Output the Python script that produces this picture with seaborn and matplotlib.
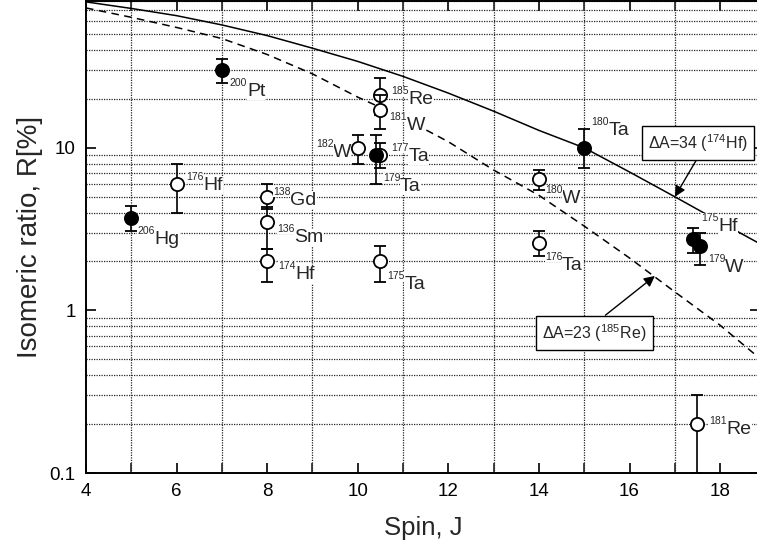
import numpy as np
import pandas as pd
import matplotlib
matplotlib.use("Agg")
import matplotlib.pyplot as plt
import matplotlib.ticker as mticker
import seaborn as sns

# kривые (J, R в %)
curve_spin = [4, 5, 6, 7, 8, 9, 10, 11, 12, 13, 14, 15, 16, 17, 18, 18.9]
solid_ratio = [79, 72, 65, 57, 49, 41, 34, 27.5, 21.7, 16.8, 12.8, 10.0, 7.1, 5.0, 3.5, 2.55]
dashed_ratio = [72.5, 63.5, 55, 47, 37.5, 28.5, 20.5, 15.3, 10.9, 7.3, 5.1, 3.3, 2.1, 1.3, 0.81, 0.5]

# open circles
open_mass = ["176", "138", "136", "174", "182", "185", "181", "177", "175", "180", "176", "181"]
open_elem = ["Hf", "Gd", "Sm", "Hf", "W", "Re", "W", "Ta", "Ta", "W", "Ta", "Re"]
open_spin = [6, 8, 8, 8, 10, 10.5, 10.5, 10.5, 10.5, 14, 14, 17.5]
open_ratio = [6.0, 5.0, 3.5, 2.0, 10, 21, 17, 9.0, 2.0, 6.4, 2.6, 0.2]
open_err_lo = [2.0, 0.8, 1.1, 0.5, 2.0, 5, 4, 1.5, 0.5, 0.9, 0.45, 0.0999]
open_err_hi = [2.0, 1.0, 0.8, 0.4, 2.0, 6, 4, 1.7, 0.5, 0.9, 0.5, 0.1]

# filled circles
full_mass = ["206", "200", "179", "180", "175", "179"]
full_elem = ["Hg", "Pt", "Ta", "Ta", "Hf", "W"]
full_spin = [5, 7, 10.4, 15, 17.4, 17.55]
full_ratio = [3.7, 30, 9.0, 10, 2.75, 2.5]
full_err_lo = [0.6, 5, 3, 2.5, 0.5, 0.6]
full_err_hi = [0.7, 5, 3, 3, 0.45, 0.5]

# положение подписей относительно точки, в пикселях (dx, dy вниз)
label_pos = {
    "206Hg": (6, 26), "200Pt": (8, 26), "176Hf": (10, 6), "138Gd": (6, 8),
    "136Sm": (10, 20), "174Hf": (11, 18), "175Ta": (7, 28), "185Re": (11, 9),
    "181W": (9, 20), "182W": (-42, 9), "177Ta": (11, 6), "179Ta": (7, 36),
    "180Ta": (7, -13), "180W": (6, 24), "176Ta": (6, 27), "175Hf": (8, -8),
    "179W": (8, 26), "181Re": (12, 10),
}

sns.set_theme(style="ticks")
plt.rcParams["font.family"] = ["Liberation Sans", "DejaVu Sans"]
plt.rcParams["mathtext.fontset"] = "custom"
plt.rcParams["mathtext.rm"] = "Liberation Sans"

fig = plt.figure(figsize=(7.57, 5.46), dpi=100)
ax = fig.add_axes([86 / 757, 73 / 546, 674 / 757, 472 / 546])
px = 72 / 100  # pixel -> point

curves = pd.DataFrame({"J": curve_spin, "solid": solid_ratio, "dashed": dashed_ratio})
sns.lineplot(data=curves, x="J", y="solid", ax=ax, color="black", lw=1.1, zorder=2)
sns.lineplot(data=curves, x="J", y="dashed", ax=ax, color="black", lw=1.1,
             dashes=False, zorder=2).lines[-1].set_dashes((5, 3.5))

z = 3.0
def draw_point(j, r, lo, hi, filled):
    global z
    ax.errorbar(j, r, yerr=[[lo], [hi]], fmt="o", ms=9.5, mec="black", mew=1.3,
                mfc="black" if filled else "white", ecolor="black", elinewidth=1.2,
                capsize=4.5, capthick=1.2, zorder=z)
    z += 0.2

def draw_label(j, r, mass, elem):
    dx, dy = label_pos[mass + elem]
    ax.annotate(elem, (j, r), xytext=((dx + 17) * px, -dy * px), textcoords="offset points",
                fontsize=14, ha="left", va="baseline", zorder=20,
                bbox=dict(fc="white", ec="none", pad=0.2))
    ax.annotate(mass, (j, r), xytext=(dx * px, -(dy - 10) * px), textcoords="offset points",
                fontsize=7.5, ha="left", va="baseline", zorder=21,
                bbox=dict(fc="white", ec="none", pad=0.1))

for i in range(len(open_spin)):
    draw_point(open_spin[i], open_ratio[i], open_err_lo[i], open_err_hi[i], False)
for i in range(len(full_spin)):
    draw_point(full_spin[i], full_ratio[i], full_err_lo[i], full_err_hi[i], True)
for i in range(len(open_spin)):
    draw_label(open_spin[i], open_ratio[i], open_mass[i], open_elem[i])
for i in range(len(full_spin)):
    draw_label(full_spin[i], full_ratio[i], full_mass[i], full_elem[i])

# рамки с подписями кривых
box = dict(boxstyle="square,pad=0.4", fc="white", ec="black", lw=1.0)
arrow = dict(arrowstyle="-|>", color="black", lw=1.0, mutation_scale=16, shrinkA=0, shrinkB=0)
ax.annotate("\u0394A=34 ($^{174}$Hf)", xy=(17.0, 5.0), xytext=(17.51, 10.7),
            fontsize=11.5, ha="center", va="center", bbox=box,
            arrowprops=dict(arrow, relpos=(0.52, 0.0)), zorder=30)
ax.annotate("\u0394A=23 ($^{185}$Re)", xy=(16.56, 1.63), xytext=(15.23, 0.727),
            fontsize=11.5, ha="center", va="center", bbox=box,
            arrowprops=dict(arrow, relpos=(0.52, 1.0)), zorder=30)

ax.set_yscale("log")
ax.set_xlim(4, 18.88)
ax.set_ylim(0.1, 80)
ax.set_xticks(range(4, 19, 2))
ax.set_xticks(range(5, 19, 2), minor=True)
ax.yaxis.set_major_locator(mticker.FixedLocator([0.1, 1, 10]))
ax.yaxis.set_major_formatter(mticker.FuncFormatter(lambda v, p: f"{v:g}"))
ax.yaxis.set_minor_locator(mticker.LogLocator(base=10, subs=range(2, 10), numticks=20))
ax.yaxis.set_minor_formatter(mticker.NullFormatter())

ax.tick_params(which="major", direction="in", length=7.2, width=1.2, top=True, right=True,
               labelsize=13.5, pad=7.5, colors="black")
ax.tick_params(axis="x", which="minor", direction="in", length=7.2, width=1.2, top=True)
ax.tick_params(axis="y", which="minor", length=0)
ax.grid(False)
ax.grid(which="minor", color="0.15", linestyle=(0, (1, 1)), linewidth=0.9)
for s in ax.spines.values():
    s.set_linewidth(1.4)
    s.set_color("black")

ax.set_xlabel("Spin, J", fontsize=18.5, labelpad=11)
ax.set_ylabel("Isomeric ratio, R[%]", fontsize=20, labelpad=5)

fig.savefig("out.png", dpi=100)
